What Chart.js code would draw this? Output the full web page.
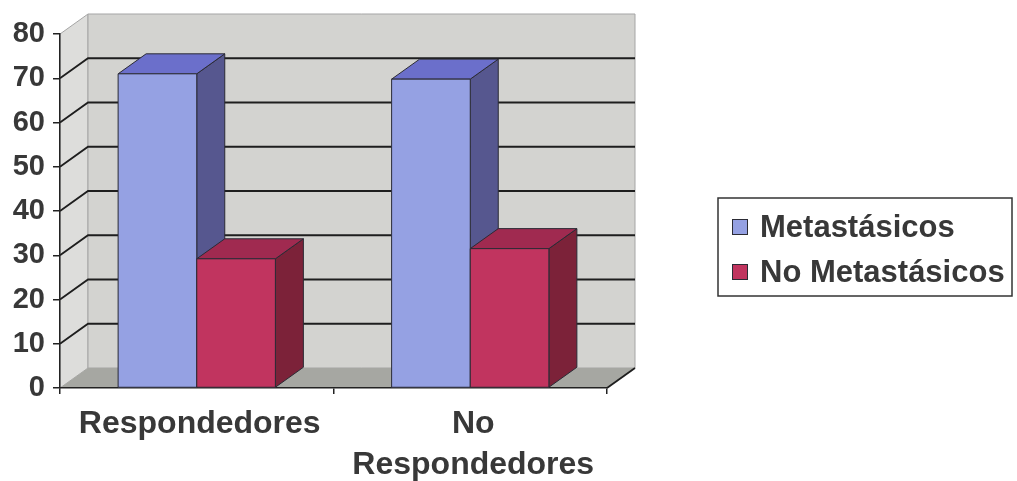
<!DOCTYPE html>
<html>
<head>
<meta charset="utf-8">
<script src="https://cdn.jsdelivr.net/npm/chart.js@4.4.0/dist/chart.umd.min.js"></script>
<style>
  html, body { margin: 0; padding: 0; background: #fff; }
</style>
</head>
<body>
<canvas id="grafico" width="1017" height="481"></canvas>
<script>
"use strict";
const categorias = ["Respondedores", ["No", "Respondedores"]];
const series = ["Metastásicos", "No Metastásicos"];
const metastasicos = [71, 69.8];
const noMetastasicos = [29.2, 31.5];
const ejeY = { min: 0, max: 80, paso: 10 };

const fuente = "'Liberation Sans', Arial, sans-serif";
const texto = "#383838";
const borde = "#2b2b35";
// desplazamiento de la profundidad 3D
const prof = { dx: 28, dy: 20 };
const caras = [
  { frente: "#95a1e3", arriba: "#6b6fcb", lado: "#56578f" },
  { frente: "#c1345f", arriba: "#a02a50", lado: "#7c2239" },
];

const poly = (ctx, pts, fill, stroke, lw = 1) => {
  ctx.beginPath();
  pts.forEach(([x, y], i) => (i ? ctx.lineTo(x, y) : ctx.moveTo(x, y)));
  ctx.closePath();
  if (fill) {
    ctx.fillStyle = fill;
    ctx.fill();
  }
  if (stroke) {
    ctx.strokeStyle = stroke;
    ctx.lineWidth = lw;
    ctx.stroke();
  }
};

// paredes, suelo y líneas de división
const paredes = {
  id: "paredes",
  beforeDraw(chart) {
    const { ctx, chartArea: a } = chart;
    const y = chart.scales.y;
    const { dx, dy } = prof;
    ctx.save();
    poly(ctx, [[a.left, a.bottom], [a.left, a.top], [a.left + dx, a.top - dy], [a.left + dx, a.bottom - dy]], "#dddddb", "#a5a5a5");
    poly(ctx, [[a.left + dx, a.top - dy], [a.right + dx, a.top - dy], [a.right + dx, a.bottom - dy], [a.left + dx, a.bottom - dy]], "#d3d3d0", "#a5a5a5");
    poly(ctx, [[a.left, a.bottom], [a.left + dx, a.bottom - dy], [a.right + dx, a.bottom - dy], [a.right, a.bottom]], "#a6a7a2", null);

    ctx.strokeStyle = "#1e1e1e";
    ctx.lineWidth = 1.8;
    y.ticks.forEach((t) => {
      if (t.value <= y.min || t.value >= y.max) return;
      const py = y.getPixelForValue(t.value);
      ctx.beginPath();
      ctx.moveTo(a.left, py);
      ctx.lineTo(a.left + dx, py - dy);
      ctx.lineTo(a.right + dx, py - dy);
      ctx.stroke();
    });
    ctx.beginPath();
    ctx.moveTo(a.right, a.bottom);
    ctx.lineTo(a.right + dx, a.bottom - dy);
    ctx.stroke();
    ctx.restore();
  },
};

// caras lateral y superior de cada columna
const barras3d = {
  id: "barras3d",
  afterDatasetsDraw(chart) {
    const { ctx } = chart;
    const { dx, dy } = prof;
    const metas = chart.data.datasets.map((d, i) => chart.getDatasetMeta(i));
    ctx.save();
    ctx.lineJoin = "round";
    categorias.forEach((c, j) => {
      metas.forEach((meta, i) => {
        const { x, y, base, width } = meta.data[j].getProps(["x", "y", "base", "width"], true);
        const l = x - width / 2;
        const r = x + width / 2;
        const cara = caras[i];
        poly(ctx, [[r, y], [r + dx, y - dy], [r + dx, base - dy], [r, base]], cara.lado, borde);
        poly(ctx, [[l, y], [l + dx, y - dy], [r + dx, y - dy], [r, y]], cara.arriba, borde);
        poly(ctx, [[l, y], [r, y], [r, base], [l, base]], cara.frente, borde);
      });
    });
    ctx.restore();
  },
};

// leyenda con recuadro a la derecha
const leyenda = {
  id: "leyenda",
  afterDraw(chart) {
    const { ctx } = chart;
    const caja = { x: 718, y: 198, w: 294, h: 98 };
    ctx.save();
    ctx.strokeStyle = "#333";
    ctx.lineWidth = 1.5;
    ctx.strokeRect(caja.x, caja.y, caja.w, caja.h);
    ctx.font = "bold 31px " + fuente;
    ctx.textBaseline = "alphabetic";
    chart.data.datasets.forEach((ds, i) => {
      const base = 237 + i * 45;
      ctx.fillStyle = ds.backgroundColor;
      ctx.fillRect(732, base - 18, 16, 16);
      ctx.strokeStyle = borde;
      ctx.lineWidth = 1;
      ctx.strokeRect(732.5, base - 17.5, 15, 15);
      ctx.fillStyle = texto;
      ctx.fillText(ds.label, 760, base);
    });
    ctx.restore();
  },
};

new Chart(document.getElementById("grafico"), {
  type: "bar",
  data: {
    labels: categorias,
    datasets: [
      { label: series[0], data: metastasicos, backgroundColor: caras[0].frente },
      { label: series[1], data: noMetastasicos, backgroundColor: caras[1].frente },
    ],
  },
  options: {
    responsive: false,
    animation: false,
    layout: { padding: { top: 34, right: 410, left: 0, bottom: 0 } },
    datasets: { bar: { categoryPercentage: 0.575, barPercentage: 1 } },
    plugins: { legend: { display: false }, tooltip: { enabled: false } },
    scales: {
      x: {
        grid: { drawOnChartArea: false, offset: true, tickLength: 6, color: "#222", lineWidth: 1.5 },
        border: { color: "#222", width: 1.5 },
        ticks: {
          color: texto,
          maxRotation: 0,
          autoSkip: false,
          padding: 9,
          labelOffset: 3,
          font: { family: fuente, size: 32, weight: "bold", lineHeight: 1.3 },
        },
        afterFit: (s) => { s.height = 93; },
      },
      y: {
        min: ejeY.min,
        max: ejeY.max,
        grid: { drawOnChartArea: false, tickLength: 7, color: "#222", lineWidth: 1.5 },
        border: { color: "#222", width: 1.5 },
        ticks: {
          stepSize: ejeY.paso,
          color: texto,
          padding: 8,
          font: { family: fuente, size: 29, weight: "bold" },
        },
        afterFit: (s) => { s.width = 60; },
      },
    },
  },
  plugins: [paredes, barras3d, leyenda],
});
</script>
</body>
</html>
